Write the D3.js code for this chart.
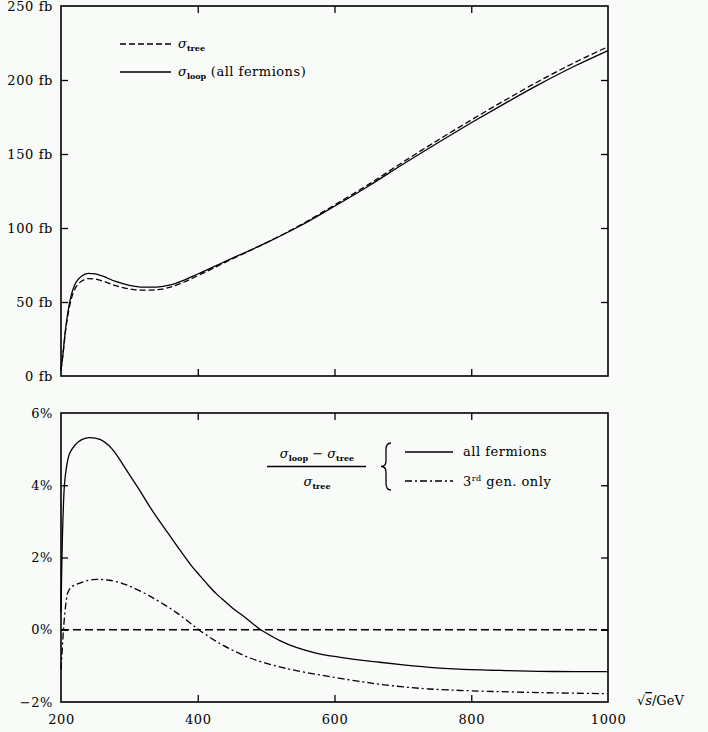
<!DOCTYPE html>
<html lang="en">
<head>
    <meta charset="UTF-8">
    <title>Cross section and relative correction</title>
    <style>
        body, html {
            margin: 0;
            padding: 0;
            background: #f8fbf8;
            overflow: hidden;
        }
        svg text {
            font-family: "DejaVu Serif", serif;
            font-size: 13px;
            fill: #000;
        }
    </style>
</head>
<body>
    <script src="https://d3js.org/d3.v7.min.js"></script>
    <script>
        // ---- data ----
        var energyTop = [200, 203, 206, 210, 215, 220, 225, 230, 240, 250, 260, 280, 300, 320, 340, 360, 380, 400,
                         450, 500, 550, 600, 650, 700, 750, 800, 850, 900, 950, 1000];
        var sigmaTree = [4, 15, 28, 41, 52, 58.5, 62, 64, 65.8, 65.5, 64.3, 61, 58.8, 58.0, 58.3, 60, 63.5, 67.8,
                         79, 90, 102, 115.5, 129.5, 144.5, 159, 173, 186.5, 199.5, 211.5, 222.5];
        var sigmaLoop = [4, 15.5, 29.2, 42.9, 54.6, 61.5, 65.2, 67.4, 69.3, 69.0, 67.6, 63.9, 61.3, 60.1, 60.1, 61.5, 64.8, 68.9,
                         79.5, 89.9, 101.5, 114.7, 128.4, 143.1, 157.3, 171.1, 184.4, 197.2, 209.1, 219.9];

        var energyAll = [200, 202, 205, 208, 212, 216, 225, 235, 242, 257, 270, 281, 293, 305, 318, 330, 342, 354,
                         366, 378, 390, 403, 415, 427, 440, 452, 465, 477, 490, 500, 520, 544, 570, 600, 641, 666,
                         700, 739, 782, 850, 900, 950, 1000];
        var deltaAll = [0.5, 2.5, 4.0, 4.5, 4.85, 5.0, 5.2, 5.3, 5.32, 5.27, 5.1, 4.85, 4.5, 4.15, 3.77, 3.4, 3.06, 2.74,
                        2.42, 2.1, 1.79, 1.5, 1.24, 1.0, 0.78, 0.58, 0.4, 0.22, 0.03, -0.09, -0.3, -0.49, -0.63, -0.74, -0.85, -0.9,
                        -0.97, -1.04, -1.09, -1.13, -1.15, -1.16, -1.16];

        var energyThird = [200, 202, 204, 207, 210, 215, 223, 235, 247, 260, 271, 290, 305, 330, 354, 370, 388, 403,
                           427, 447, 476, 510, 544, 600, 641, 666, 700, 739, 800, 900, 1000];
        var deltaThird = [-1.1, -0.5, 0.1, 0.7, 1.03, 1.18, 1.26, 1.34, 1.39, 1.39, 1.37, 1.28, 1.17, 0.93, 0.66, 0.46, 0.2, -0.02,
                          -0.32, -0.53, -0.78, -0.98, -1.13, -1.32, -1.44, -1.51, -1.58, -1.64, -1.69, -1.74, -1.77];

        var xTicks = [200, 400, 600, 800, 1000];
        var fbTicks = [0, 50, 100, 150, 200, 250];
        var pctTicks = [-2, 0, 2, 4, 6];

        var width = 708, height = 732;

        var svg = d3.select("body")
            .append("svg")
            .attr("width", width)
            .attr("height", height);

        // scales
        var x = d3.scaleLinear().domain([200, 1000]).range([61, 608]);
        var yTop = d3.scaleLinear().domain([0, 250]).range([376, 6]);
        var yBot = d3.scaleLinear().domain([-2, 6]).range([702, 413]);

        var tick = 7;

        function frame(y) {
            var r = y.range();
            svg.append("rect")
                .attr("x", x.range()[0]).attr("y", r[1])
                .attr("width", x.range()[1] - x.range()[0])
                .attr("height", r[0] - r[1])
                .attr("fill", "none")
                .attr("stroke", "#000")
                .attr("stroke-width", 1.6);
        }

        function axes(y, yFormat, showX) {
            var r = y.range();
            var inner = xTicks.slice(1, -1);
            // bottom x axis
            var gb = svg.append("g").attr("transform", "translate(0," + r[0] + ")")
                .call(d3.axisBottom(x).tickValues(showX ? xTicks : inner).tickSizeInner(-tick).tickSizeOuter(0)
                    .tickPadding(13).tickFormat(showX ? d3.format("d") : ""));
            if (showX) {
                gb.selectAll(".tick line").filter(function (d) { return d === 200 || d === 1000; }).remove();
            }
            // top x axis
            svg.append("g").attr("transform", "translate(0," + r[1] + ")")
                .call(d3.axisTop(x).tickValues(inner).tickSizeInner(-tick).tickSizeOuter(0).tickFormat(""));
            // left y axis
            var yt = y.domain();
            var gl = svg.append("g").attr("transform", "translate(" + x.range()[0] + ",0)")
                .call(d3.axisLeft(y).tickValues(y === yTop ? fbTicks : pctTicks).tickSizeInner(-tick).tickSizeOuter(0)
                    .tickPadding(8).tickFormat(yFormat));
            gl.selectAll(".tick line").filter(function (d) { return d === yt[0] || d === yt[1]; }).remove();
            // right y axis
            svg.append("g").attr("transform", "translate(" + x.range()[1] + ",0)")
                .call(d3.axisRight(y).tickValues((y === yTop ? fbTicks : pctTicks).slice(1, -1))
                    .tickSizeInner(-tick).tickSizeOuter(0).tickFormat(""));
            svg.selectAll(".domain").remove();
            svg.selectAll(".tick line").attr("stroke", "#000").attr("stroke-width", 1.3);
            svg.selectAll(".tick text").attr("font-family", "DejaVu Serif").attr("font-size", 13)
                .attr("letter-spacing", 0.6);
        }

        // ---- top panel ----
        var lineTop = d3.line()
            .x(function (d) { return x(d[0]); })
            .y(function (d) { return yTop(d[1]); })
            .curve(d3.curveMonotoneX);

        svg.append("path")
            .attr("d", lineTop(d3.zip(energyTop, sigmaTree)))
            .attr("fill", "none").attr("stroke", "#000").attr("stroke-width", 1.3)
            .attr("stroke-dasharray", "6,3");
        svg.append("path")
            .attr("d", lineTop(d3.zip(energyTop, sigmaLoop)))
            .attr("fill", "none").attr("stroke", "#000").attr("stroke-width", 1.3);

        frame(yTop);
        axes(yTop, function (d) { return d + " fb"; }, false);

        // ---- bottom panel ----
        var lineBot = d3.line()
            .x(function (d) { return x(d[0]); })
            .y(function (d) { return yBot(d[1]); })
            .curve(d3.curveCatmullRom.alpha(0.5));

        svg.append("line")
            .attr("x1", x(200)).attr("x2", x(1000))
            .attr("y1", yBot(0)).attr("y2", yBot(0))
            .attr("stroke", "#000").attr("stroke-width", 1.3)
            .attr("stroke-dasharray", "8,4");
        svg.append("path")
            .attr("d", lineBot(d3.zip(energyAll, deltaAll)))
            .attr("fill", "none").attr("stroke", "#000").attr("stroke-width", 1.3);
        svg.append("path")
            .attr("d", lineBot(d3.zip(energyThird, deltaThird)))
            .attr("fill", "none").attr("stroke", "#000").attr("stroke-width", 1.3)
            .attr("stroke-dasharray", "7,3,2,3");

        frame(yBot);
        axes(yBot, function (d) { return (d < 0 ? "\u2212" + (-d) : d) + "%"; }, true);

        // ---- legends ----
        function sigma(t, x0, y0, sub) {
            var tx = t.append("text").attr("x", x0).attr("y", y0);
            tx.append("tspan").attr("font-style", "italic").text("\u03c3");
            tx.append("tspan").attr("font-size", 8).attr("font-weight", "bold")
                .attr("dy", 3).text(sub);
            return tx;
        }

        var leg = svg.append("g");
        leg.append("line").attr("x1", 120).attr("x2", 171).attr("y1", 44).attr("y2", 44)
            .attr("stroke", "#000").attr("stroke-width", 1.3).attr("stroke-dasharray", "6,3");
        leg.append("line").attr("x1", 120).attr("x2", 171).attr("y1", 72).attr("y2", 72)
            .attr("stroke", "#000").attr("stroke-width", 1.3);
        sigma(leg, 178, 48, "tree");
        var t2 = sigma(leg, 178, 76, "loop");
        t2.append("tspan").attr("dy", -3).attr("letter-spacing", 0.5).text(" (all fermions)");

        // fraction legend in the lower panel
        var num = leg.append("text").attr("x", 317).attr("y", 458).attr("text-anchor", "middle");
        num.append("tspan").attr("font-style", "italic").text("\u03c3");
        num.append("tspan").attr("font-size", 8).attr("font-weight", "bold").attr("dy", 3).text("loop");
        num.append("tspan").attr("dy", -3).text(" \u2212 ");
        num.append("tspan").attr("font-style", "italic").text("\u03c3");
        num.append("tspan").attr("font-size", 8).attr("font-weight", "bold").attr("dy", 3).text("tree");
        leg.append("line").attr("x1", 267).attr("x2", 366).attr("y1", 466.5).attr("y2", 466.5)
            .attr("stroke", "#000").attr("stroke-width", 1.3);
        var den = leg.append("text").attr("x", 317).attr("y", 486).attr("text-anchor", "middle");
        den.append("tspan").attr("font-style", "italic").text("\u03c3");
        den.append("tspan").attr("font-size", 8).attr("font-weight", "bold").attr("dy", 3).text("tree");

        leg.append("path")
            .attr("d", "M391,443 Q386,443 386,450 L386,461 Q386,466.5 381,466.5 Q386,466.5 386,472 L386,483 Q386,490 391,490")
            .attr("fill", "none").attr("stroke", "#000").attr("stroke-width", 1.3);

        leg.append("line").attr("x1", 405).attr("x2", 453).attr("y1", 452).attr("y2", 452)
            .attr("stroke", "#000").attr("stroke-width", 1.3);
        leg.append("line").attr("x1", 405).attr("x2", 453).attr("y1", 481).attr("y2", 481)
            .attr("stroke", "#000").attr("stroke-width", 1.3).attr("stroke-dasharray", "7,3,2,3");
        leg.append("text").attr("x", 463).attr("y", 456).attr("letter-spacing", 0.5).text("all fermions");
        var g3 = leg.append("text").attr("x", 463).attr("y", 486).attr("letter-spacing", 0.5);
        g3.append("tspan").text("3");
        g3.append("tspan").attr("font-size", 8).attr("dy", -5).text("rd");
        g3.append("tspan").attr("dy", 5).text(" gen. only");

        // x axis title
        var xt = svg.append("text").attr("x", 637).attr("y", 705);
        xt.append("tspan").text("\u221a");
        xt.append("tspan").attr("font-style", "italic").style("text-decoration", "overline").text("s");
        xt.append("tspan").text("/GeV");
    </script>
</body>
</html>
